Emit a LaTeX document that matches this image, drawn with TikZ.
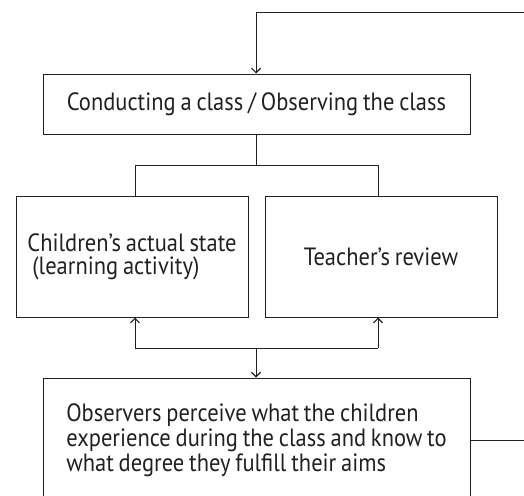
\documentclass[tikz,border=0pt]{standalone}
\usepackage{fontspec}
\setmainfont{PT Sans}[FakeStretch=0.9, WordSpace=0.8]
\usetikzlibrary{arrows.meta}
\definecolor{ink}{RGB}{35,31,32}
\tikzset{
  box/.style={draw=ink, line width=1pt, text=ink, inner sep=0pt, font=\fontsize{25}{25}\selectfont},
  conn/.style={draw=ink, line width=1pt},
  arr/.style={conn, -{Straight Barb[length=4.5pt,width=9pt,line width=1.2pt]}}
}
\begin{document}
\begin{tikzpicture}[x=1pt,y=-1pt]
\useasboundingbox (0,0) rectangle (524,495);
\clip (0,0) rectangle (524,495);
\node[box, minimum width=427pt, minimum height=60pt] (top) at (256.5,104) {Conducting a class / Observing the class};
\node[box, minimum width=232pt, minimum height=121pt, align=left] (left) at (132,256.5) {\raisebox{-2pt}{Children’s actual state}\\\hspace*{0.2em}(learning activity)};
\node[box, minimum width=232pt, minimum height=121pt] (right) at (381,256.5) {\raisebox{-3pt}{Teacher’s review}};
\node[box, minimum width=427pt, minimum height=124pt, align=left] (bot) at (256.5,440) {Observers perceive what the children\\experience during the class and know to\\what degree they fulfill their aims};
\coordinate (tr) at (530,13);
\coordinate (tl) at (256,13);
\coordinate (br) at (530,440);
\coordinate (sp) at (256,165);
\coordinate (spl) at (135,165);
\coordinate (spr) at (378,165);
\coordinate (jn) at (256,348);
\coordinate (jl) at (135,348);
\coordinate (jr) at (378,348);
\draw[conn] (tr) -- (tl);
\draw[arr] (tl) -- (top.north -| tl);
\draw[conn] (top.south -| sp) -- (sp);
\draw[conn] (left.north -| spl) -- (spl) -- (spr) -- (right.north -| spr);
\draw[arr] (jl) -- (left.south -| jl);
\draw[arr] (jr) -- (right.south -| jr);
\draw[conn] (jl) -- (jr);
\draw[arr] (jn) -- (bot.north -| jn);
\draw[conn] (bot.east) -- (br);
\end{tikzpicture}
\end{document}
